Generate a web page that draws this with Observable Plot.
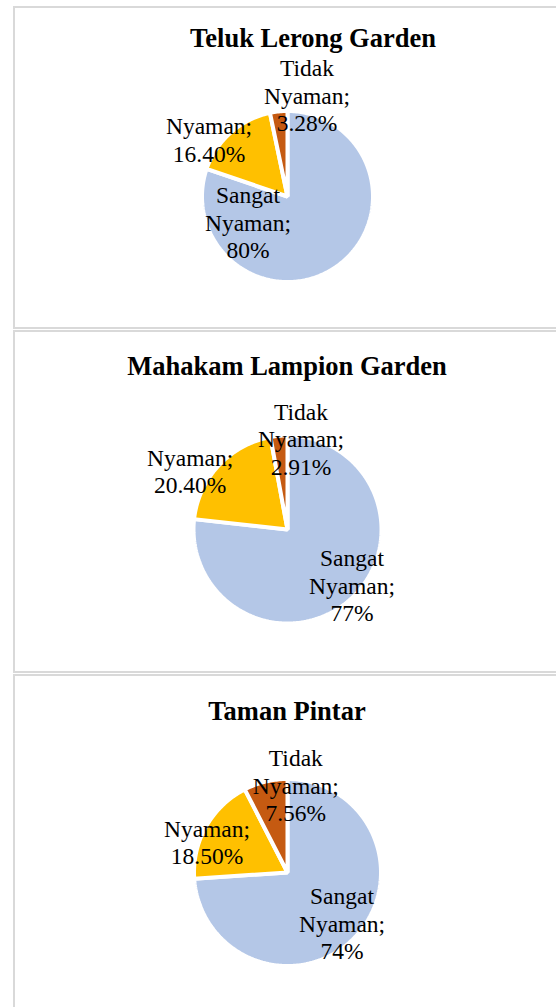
<!DOCTYPE html>
<html><head><meta charset="utf-8">
<script src="https://cdn.jsdelivr.net/npm/d3@7"></script>
<script src="https://cdn.jsdelivr.net/npm/@observablehq/plot@0.6"></script>
<style>
html,body{margin:0;padding:0;background:#fff;}
body{width:556px;height:1007px;overflow:hidden;position:relative;font-family:"Liberation Serif","Times New Roman",serif;}
.box{position:absolute;left:13px;width:620px;border:2px solid #d9d9d9;box-sizing:border-box;}
.title{position:absolute;width:440px;text-align:center;font-weight:bold;font-size:26.5px;line-height:1;white-space:nowrap;color:#000;}
.chart{position:absolute;left:0;}
</style></head><body>
<div id="root"></div>
<script>
// ---- data ----
const places = ["Teluk Lerong Garden", "Mahakam Lampion Garden", "Taman Pintar"];
const categories = ["Sangat Nyaman", "Nyaman", "Tidak Nyaman"];
const sangatNyaman = [80, 77, 74];
const nyaman = [16.40, 20.40, 18.50];
const tidakNyaman = [3.28, 2.91, 7.56];

// ---- styles / layout ----
const sliceColors = ["#B4C7E7", "#FFC000", "#C55A11"];
const panels = [
  {top: 6,   height: 323, cx: 287, cy: 196, r: 85.5, titleX: 313, titleBase: 47,
   labels: [[-0.462, -0.295], [-0.918, 0.670], [0.228, 1.187]]},
  {top: 330, height: 343, cx: 287, cy: 529, r: 94, titleX: 287, titleBase: 375,
   labels: [[0.686, -0.590], [-1.036, 0.626], [0.144, 0.969]]},
  {top: 674, height: 420, cx: 287, cy: 872, r: 93.5, titleX: 287, titleBase: 720,
   labels: [[0.583, -0.537], [-0.861, 0.329], [0.089, 0.936]]}
];
const labelFont = 23.5, lineH = 1.17;

const fmt = v => Number.isInteger(v) ? `${v}%` : `${v.toFixed(2)}%`;
const root = document.getElementById("root");

places.forEach((place, p) => {
  const L = panels[p];
  const values = [sangatNyaman[p], nyaman[p], tidakNyaman[p]];
  const total = d3.sum(values);

  // slices as closed polygons in unit-circle coordinates (clockwise from 12 o'clock)
  const poly = [];
  let acc = 0;
  values.forEach((v, i) => {
    const a0 = acc / total * 2 * Math.PI;
    acc += v;
    const a1 = acc / total * 2 * Math.PI;
    const n = Math.max(2, Math.ceil((a1 - a0) / (Math.PI / 180)));
    poly.push({cat: categories[i], x: 0, y: 0});
    for (let k = 0; k <= n; k++) {
      const a = a0 + (a1 - a0) * k / n;
      poly.push({cat: categories[i], x: Math.sin(a), y: Math.cos(a)});
    }
  });

  const labels = categories.map((c, i) => ({
    cat: c,
    text: c.split(" ").join("\n") + ";\n" + fmt(values[i]),
    x: L.labels[i][0],
    y: L.labels[i][1]
  }));

  const box = document.createElement("div");
  box.className = "box";
  box.style.top = L.top + "px";
  box.style.height = L.height + "px";
  root.appendChild(box);

  const cyl = L.cy - L.top;
  const chart = Plot.plot({
    width: 556,
    height: L.height,
    margin: 0,
    style: {background: "transparent", overflow: "visible", fontFamily: "Liberation Serif"},
    x: {domain: [-1, 1], range: [L.cx - L.r, L.cx + L.r], axis: null},
    y: {domain: [-1, 1], range: [cyl + L.r, cyl - L.r], axis: null},
    color: {domain: categories, range: sliceColors},
    marks: [
      Plot.line(poly, {x: "x", y: "y", z: "cat", fill: "cat", stroke: "white",
        strokeWidth: 4, curve: "linear-closed", strokeLinejoin: "miter"}),
      Plot.text(labels, {x: "x", y: "y", text: "text", fill: "black",
        fontSize: labelFont, lineHeight: lineH, lineAnchor: "middle",
        textAnchor: "middle", fontFamily: "Liberation Serif"})
    ]
  });
  chart.classList.add("chart");
  chart.style.top = L.top + "px";
  root.appendChild(chart);

  const t = document.createElement("div");
  t.className = "title";
  t.textContent = place;
  t.style.left = (L.titleX - 220) + "px";
  t.style.top = (L.titleBase - 0.8375 * 26.5) + "px";
  root.appendChild(t);
});
</script>
</body></html>
